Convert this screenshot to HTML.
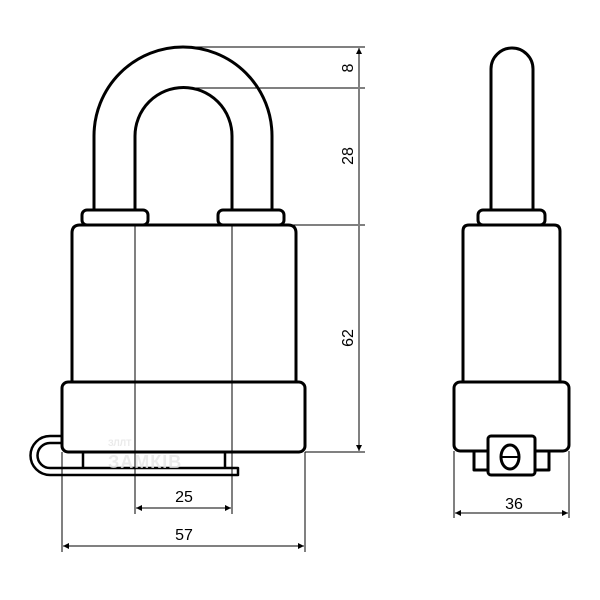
<!DOCTYPE html>
<html><head><style>body{margin:0;background:#fff}svg{display:block}</style></head><body>
<svg width="600" height="600" viewBox="0 0 600 600" xmlns="http://www.w3.org/2000/svg">
<defs>
<marker id="a" viewBox="0 0 10 10" refX="10" refY="5" markerWidth="10" markerHeight="6" orient="auto-start-reverse" markerUnits="userSpaceOnUse"><path d="M0,0L10,5L0,10z" fill="#000"/></marker>
</defs>
<g fill="none" stroke="#000" stroke-width="3" stroke-linejoin="round">
<!-- front shackle -->
<path d="M94,210 V136 A89,89 0 0 1 272,136 V210"/>
<path d="M135,210 V136 A48.5,48.5 0 0 1 232,136 V210"/>
<rect x="82" y="210" width="66" height="15" rx="5"/>
<rect x="218" y="210" width="66" height="15" rx="5"/>
<path d="M72,382 V233 Q72,225 80,225 H288 Q296,225 296,233 V382"/>
<rect x="62" y="382" width="243" height="70" rx="6"/>
<!-- latch -->
<path d="M62,436 H50 A19.5,19.5 0 0 0 50,475 H238 L238,468 H50 A12.5,12.5 0 0 1 50,443 H62" stroke-width="2.5"/>
<path d="M83,452 V468 M225,452 V468" stroke-width="2.5"/>
<!-- side view -->
<path d="M491,210 V69 A21,21 0 0 1 533,69 V210"/>
<rect x="478" y="210" width="67" height="15" rx="5"/>
<path d="M463,382 V231 Q463,225 469,225 H554 Q560,225 560,231 V382"/>
<rect x="454" y="382" width="115" height="69" rx="6"/>
<rect x="474" y="451" width="14" height="19"/>
<rect x="535" y="451" width="14" height="19"/>
<rect x="488" y="436" width="47" height="39" rx="3" fill="#fff"/>
<ellipse cx="510" cy="457" rx="9" ry="12"/>
<path d="M501,457 H519" stroke-width="2"/>
</g>
<g stroke="#000" stroke-width="1" fill="none">
<path d="M183,47 H365 M183,88 H365 M284,225 H365 M305,452 H365"/>
<path d="M359,48 V87 M359,89 V224 M359,226 V451" marker-start="url(#a)" marker-end="url(#a)"/>
<path d="M135,225 V514 M232,225 V514"/>
<path d="M136,508 H231" marker-start="url(#a)" marker-end="url(#a)"/>
<path d="M62,452 V552 M305,452 V552"/>
<path d="M63,546 H304" marker-start="url(#a)" marker-end="url(#a)"/>
<path d="M454,451 V518 M569,451 V518"/>
<path d="M455,513 H568" marker-start="url(#a)" marker-end="url(#a)"/>
</g>
<g font-family="Liberation Sans, sans-serif" font-size="16" fill="#000" text-anchor="middle">
<text x="184" y="502">25</text>
<text x="184" y="540">57</text>
<text x="514" y="509">36</text>
<text transform="translate(353,68) rotate(-90)">8</text>
<text transform="translate(353,156) rotate(-90)">28</text>
<text transform="translate(353,338) rotate(-90)">62</text>
</g>
<g font-family="Liberation Sans, sans-serif" font-weight="bold" fill="#e6e6e6" opacity="0.8">
<text x="108" y="446" font-size="9">ЗЛЛТ</text>
<text x="108" y="468" font-size="18" letter-spacing="1">ЗАМКІВ</text>
</g>
</svg>
</body></html>
